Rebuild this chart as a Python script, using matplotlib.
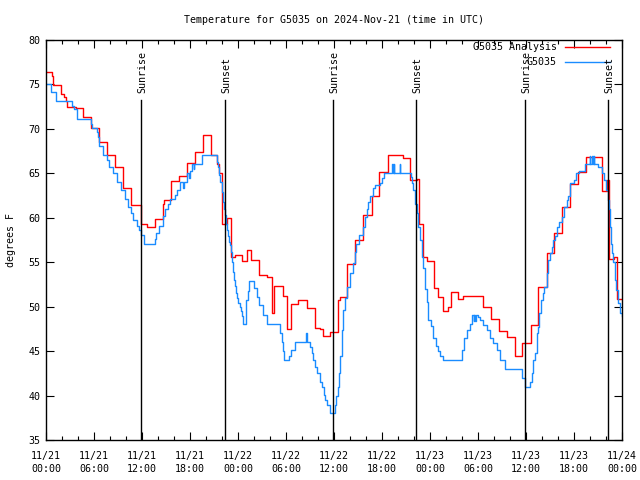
import matplotlib
matplotlib.use('Agg')
import matplotlib.pyplot as plt
from matplotlib.ticker import MultipleLocator

plt.rcParams['font.family'] = ['DejaVu Sans Mono']
plt.rcParams['font.size'] = 7.2

# hours since 2024-11-21 00:00 UTC, value held until next point (gnuplot steps)
analysis_hours = [0.0, 0.7, 0.83, 1.83, 1.9, 2.3, 2.45, 2.67, 3.7, 4.67, 5.67, 6.6, 7.67,
                  8.67, 9.67, 10.67, 11.83, 12.67, 13.58, 14.6, 14.8, 15.67, 16.58, 17.6,
                  18.58, 19.67, 20.58, 21.33, 21.6, 22.04, 22.58, 23.08, 23.6, 24.46, 25.08,
                  25.6, 26.6, 27.58, 28.2, 28.54, 29.58, 30.08, 30.6, 31.54, 32.67, 33.67,
                  34.25, 34.67, 35.5, 36.54, 36.75, 37.58, 38.63, 39.67, 40.71, 41.67, 42.71,
                  44.67, 45.5, 46.33, 46.58, 47.17, 47.67, 48.54, 49.04, 49.67, 50.29, 50.58,
                  51.54, 52.08, 54.58, 55.58, 56.63, 57.58, 58.6, 59.54, 60.58, 61.54, 62.58,
                  63.5, 64.54, 65.5, 66.54, 67.5, 69.54, 70.17, 70.4, 71.04, 71.42, 72.0]
analysis_temps = [76.4, 75.9, 74.9, 74.45, 73.9, 73.6, 73.1, 72.5, 72.4, 71.3, 70.1, 68.5, 67.1,
                  65.7, 63.4, 61.4, 59.3, 59.0, 59.9, 61.5, 62.0, 64.1, 64.7, 66.2,
                  67.4, 69.3, 67.1, 66.0, 65.0, 59.3, 60.0, 55.6, 55.8, 55.1, 56.4,
                  55.2, 53.6, 53.3, 49.3, 52.3, 51.2, 47.5, 50.3, 50.7, 49.9, 47.6,
                  47.5, 46.7, 47.1, 50.75, 51.1, 54.8, 57.5, 60.3, 62.5, 65.1, 67.06,
                  66.7, 64.25, 64.4, 59.3, 55.6, 55.1, 52.1, 51.1, 49.5, 50.0, 51.6,
                  50.9, 51.2, 50.0, 48.6, 47.3, 46.6, 44.4, 45.9, 47.9, 52.2, 56.0,
                  58.25, 61.2, 63.8, 65.2, 66.8, 63.0, 64.25, 55.4, 55.55, 50.9, 50.9]

obs_hours = [0.0, 0.6, 1.2, 3.29, 3.5, 3.92, 5.58, 5.79, 6.33, 6.5, 6.63, 7.17, 7.58, 7.92,
             8.42, 8.83, 9.42, 9.88, 10.25, 10.67, 10.92, 11.33, 11.6, 11.9, 12.25, 13.6,
             13.8, 14.1, 14.6, 14.85, 15.2, 15.5, 16.1, 16.4, 16.8, 17.1, 17.2, 17.6, 17.85,
             17.95, 18.2, 18.5, 18.55, 19.54, 21.33, 21.45, 21.6, 21.8, 21.96, 22.1, 22.2,
             22.375, 22.5, 22.65, 22.79, 22.9, 23.0, 23.1, 23.2, 23.3, 23.4, 23.5, 23.6,
             23.75, 23.9, 24.05, 24.2, 24.35, 24.5, 24.67, 24.95, 25.05, 25.2, 25.375, 26.0,
             26.33, 26.67, 27.08, 27.58, 29.25, 29.45, 29.6, 29.8, 30.42, 30.6, 31.1, 32.55,
             32.65, 33.0, 33.2, 33.42, 33.65, 33.9, 34.25, 34.5, 34.7, 34.9, 35.1, 35.5,
             36.125, 36.3, 36.54, 36.67, 36.8, 36.96, 37.17, 37.4, 37.58, 38.0, 38.42, 38.6,
             38.75, 39.08, 39.67, 39.9, 40.08, 40.3, 40.5, 40.83, 41.1, 41.75, 42.0, 42.25,
             43.3, 43.36, 43.5, 43.56, 44.2, 44.26, 45.58, 45.75, 45.92, 46.1, 46.33, 46.54,
             46.75, 46.96, 47.1, 47.375, 47.6, 47.79, 48.1, 48.42, 48.7, 49.04, 49.3, 49.67,
             51.96, 52.2, 52.58, 53.0, 53.2, 53.45, 53.51, 53.65, 53.71, 54.0, 54.3, 54.58,
             55.08, 55.5, 55.92, 56.4, 56.75, 57.375, 59.46, 59.875, 60.5, 60.7, 60.92, 61.1,
             61.33, 61.5, 61.67, 61.9, 62.08, 62.3, 62.58, 62.8, 63.0, 63.2, 63.42, 63.6,
             63.83, 64.1, 64.46, 64.7, 65.08, 65.3, 65.5, 66.0, 66.3, 66.58, 67.375, 68.0,
             68.06, 68.3, 68.36, 68.5, 68.56, 69.04, 69.46, 69.7, 70.0, 70.2, 70.33, 70.5,
             70.6, 70.71, 70.9, 71.125, 71.3, 71.54, 71.8, 72.0]
obs_temps = [75.05, 74.1, 73.1, 72.6, 72.2, 71.1, 70.6, 70.1, 69.6, 69.05, 68.1, 67.1, 66.5, 65.7,
             65.0, 64.0, 63.1, 62.1, 61.25, 60.5, 59.7, 59.1, 58.6, 58.06, 57.05, 57.6,
             58.25, 59.1, 60.2, 61.0, 61.5, 62.1, 62.6, 63.1, 64.0, 63.3, 64.0, 65.0, 64.5,
             65.3, 66.05, 65.5, 66.05, 67.06, 66.3, 65.7, 64.8, 64.0, 62.9, 61.8, 61.0,
             60.3, 59.35, 58.6, 58.0, 57.3, 56.9, 56.2, 55.8, 55.0, 53.9, 53.0, 52.3,
             51.5, 51.0, 50.4, 50.0, 49.5, 49.0, 48.1, 49.5, 50.75, 51.8, 52.9, 52.05,
             51.1, 50.2, 49.1, 48.0, 47.0, 46.0, 45.0, 44.0, 44.5, 45.1, 46.05, 47.0,
             46.05, 45.5, 44.8, 44.0, 43.2, 42.5, 41.5, 41.0, 40.1, 39.5, 38.9, 38.0,
             38.9, 40.0, 41.0, 42.5, 44.5, 47.4, 49.6, 51.0, 52.25, 53.75, 54.9, 56.2,
             57.1, 58.06, 59.0, 60.1, 61.0, 61.8, 62.4, 63.3, 63.7, 63.95, 64.5, 65.0,
             66.1, 65.0, 66.1, 65.0, 66.1, 65.0, 64.6, 63.9, 63.1, 61.6, 60.5, 59.0,
             57.5, 55.6, 54.3, 52.0, 50.5, 48.5, 47.8, 46.5, 45.6, 45.0, 44.5, 44.0,
             45.1, 46.5, 47.4, 48.0, 49.06, 48.4, 49.06, 48.4, 49.06, 48.8, 48.5, 47.9,
             47.4, 46.5, 45.9, 45.1, 44.0, 42.95, 41.94, 41.0, 41.5, 42.5, 44.0, 44.75,
             47.0, 47.75, 49.25, 50.75, 51.5, 52.25, 53.75, 55.25, 56.0, 56.75, 57.5, 57.9,
             59.0, 59.56, 60.1, 61.25, 62.0, 62.4, 63.9, 64.25, 65.0, 65.26, 66.05, 67.0,
             66.05, 67.0, 66.05, 67.0, 66.05, 65.75, 65.0, 64.25, 63.1, 62.0, 61.0, 59.0,
             57.0, 56.0, 55.0, 53.0, 51.9, 50.4, 49.25, 49.0]

sun_hours = [11.875, 22.375, 35.875, 46.25, 59.875, 70.25]
sun_labels = ['Sunrise', 'Sunset', 'Sunrise', 'Sunset', 'Sunrise', 'Sunset']

tick_hours = list(range(0, 73, 6))
tick_labels = ['11/21\n00:00', '11/21\n06:00', '11/21\n12:00', '11/21\n18:00',
               '11/22\n00:00', '11/22\n06:00', '11/22\n12:00', '11/22\n18:00',
               '11/23\n00:00', '11/23\n06:00', '11/23\n12:00', '11/23\n18:00',
               '11/24\n00:00']

series_names = ['G5035 Analysis', 'G5035']
series_colors = ['#ff0000', '#1a8cff']

fig = plt.figure(figsize=(6.4, 4.8), dpi=100)
ax = fig.add_axes([46 / 640, 40 / 480, 576 / 640, 400 / 480])

ax.plot(analysis_hours, analysis_temps, drawstyle='steps-post', color=series_colors[0], lw=1.0)
ax.plot(obs_hours, obs_temps, drawstyle='steps-post', color=series_colors[1], lw=1.0)

for h, lab in zip(sun_hours, sun_labels):
    ax.plot([h, h], [35, 73.25], color='black', lw=1.0)
    ax.text(h + 0.15, 74.0, lab, rotation=90, ha='center', va='bottom')

ax.set_xlim(0, 72)
ax.set_ylim(35, 80)
ax.set_xticks(tick_hours)
ax.set_xticklabels(tick_labels, linespacing=1.3)
ax.xaxis.set_minor_locator(MultipleLocator(2))
ax.yaxis.set_major_locator(MultipleLocator(5))
ax.tick_params(which='major', direction='in', length=6, top=True, right=True, width=0.8)
ax.tick_params(axis='x', which='major', pad=8)
ax.tick_params(axis='y', which='major', pad=4)
ax.tick_params(which='minor', direction='in', length=3, top=True, right=True, width=0.8)
ax.set_ylabel('degrees F', labelpad=9)

for s in ax.spines.values():
    s.set_linewidth(1.0)

# legend, gnuplot style: label then line sample
for i, (name, col) in enumerate(zip(series_names, series_colors)):
    yy = 0.9825 - i * 0.0375
    ax.text(0.887, yy, name, transform=ax.transAxes, ha='right', va='center')
    ax.plot([0.901, 0.979], [yy, yy], transform=ax.transAxes, color=col, lw=1.0)

fig.text(334 / 640, 1 - 20 / 480, 'Temperature for G5035 on 2024-Nov-21 (time in UTC)',
         ha='center', va='center')

fig.savefig('out.png', dpi=100)
